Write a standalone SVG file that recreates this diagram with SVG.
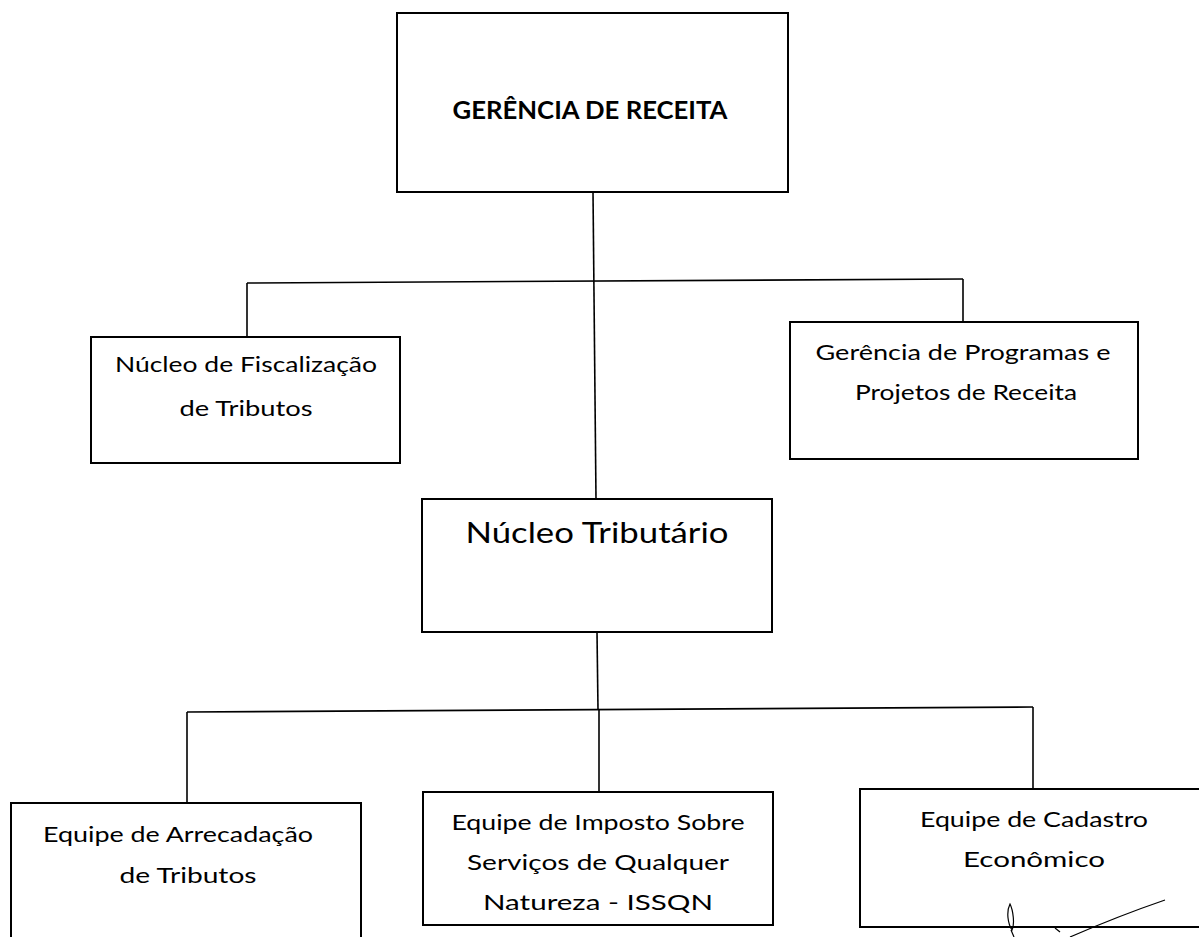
<svg xmlns="http://www.w3.org/2000/svg" width="1199" height="937" viewBox="0 0 1199 937">
<style>
.box{fill:#fff;stroke:#000;stroke-width:2}
.conn{fill:none;stroke:#000;stroke-width:1.6}
.t{font-family:Lato,"Liberation Sans",sans-serif;fill:#000;text-anchor:middle}
.s{font-size:21px}
.m{font-size:28px}
.b{font-size:25px;font-weight:bold}
.sig{fill:none;stroke:#000;stroke-width:1.2}
</style>
<rect width="1199" height="937" fill="#fff"/>
<g id="connectors">
<line class="conn" x1="593" y1="192" x2="596" y2="499"/>
<line class="conn" x1="247" y1="283" x2="963" y2="279"/>
<line class="conn" x1="247" y1="283" x2="247" y2="337"/>
<line class="conn" x1="963" y1="279" x2="963" y2="322"/>
<line class="conn" x1="597" y1="632" x2="598" y2="710"/>
<line class="conn" x1="187" y1="712" x2="1033" y2="707"/>
<line class="conn" x1="187" y1="712" x2="187" y2="803"/>
<line class="conn" x1="599" y1="709" x2="599" y2="792"/>
<line class="conn" x1="1033" y1="707" x2="1033" y2="789"/>
</g>
<g id="gerencia-receita">
<rect class="box" x="397" y="13" width="391" height="179"/>
<text class="t b" x="590" y="119" textLength="275" lengthAdjust="spacingAndGlyphs">GERÊNCIA DE RECEITA</text>
</g>
<g id="nucleo-fiscalizacao">
<rect class="box" x="91" y="337" width="309" height="126"/>
<text class="t s" x="246" y="372" textLength="262" lengthAdjust="spacingAndGlyphs">Núcleo de Fiscalização</text>
<text class="t s" x="246" y="416" textLength="133" lengthAdjust="spacingAndGlyphs">de Tributos</text>
</g>
<g id="gerencia-programas">
<rect class="box" x="790" y="322" width="348" height="137"/>
<text class="t s" x="963" y="360" textLength="295" lengthAdjust="spacingAndGlyphs">Gerência de Programas e</text>
<text class="t s" x="966" y="400" textLength="222" lengthAdjust="spacingAndGlyphs">Projetos de Receita</text>
</g>
<g id="nucleo-tributario">
<rect class="box" x="422" y="499" width="350" height="133"/>
<text class="t m" x="597" y="543" textLength="263" lengthAdjust="spacingAndGlyphs">Núcleo Tributário</text>
</g>
<g id="equipe-arrecadacao">
<rect class="box" x="11" y="803" width="350" height="150"/>
<text class="t s" x="178" y="842" textLength="270" lengthAdjust="spacingAndGlyphs">Equipe de Arrecadação</text>
<text class="t s" x="188" y="883" textLength="137" lengthAdjust="spacingAndGlyphs">de Tributos</text>
</g>
<g id="equipe-issqn">
<rect class="box" x="423" y="792" width="350" height="133"/>
<text class="t s" x="598" y="830" textLength="293" lengthAdjust="spacingAndGlyphs">Equipe de Imposto Sobre</text>
<text class="t s" x="598" y="870" textLength="262" lengthAdjust="spacingAndGlyphs">Serviços de Qualquer</text>
<text class="t s" x="598" y="910" textLength="230" lengthAdjust="spacingAndGlyphs">Natureza - ISSQN</text>
</g>
<g id="equipe-cadastro">
<rect class="box" x="860" y="789" width="350" height="138"/>
<text class="t s" x="1034" y="827" textLength="228" lengthAdjust="spacingAndGlyphs">Equipe de Cadastro</text>
<text class="t s" x="1034" y="867" textLength="142" lengthAdjust="spacingAndGlyphs">Econômico</text>
</g>
<g id="signature">
<path class="sig" d="M1010 904 C1006 912 1008 924 1012 930 C1015 924 1013 910 1010 904 Z M1011 930 L1014 937"/>
<path class="sig" d="M1165 900 C1130 912 1100 924 1070 937"/>
<path class="sig" d="M1055 928 L1060 932"/>
</g>
</svg>
